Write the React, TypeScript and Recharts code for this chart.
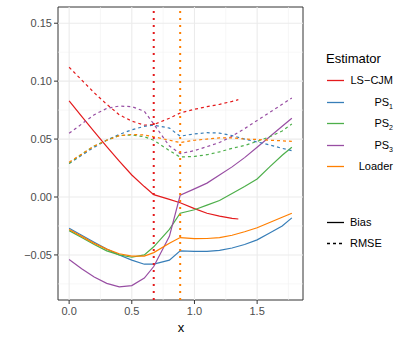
import React from "react";
import { LineChart, Line, XAxis, YAxis, ReferenceLine, ReferenceArea } from "recharts";

// x grid for the four spline estimators; LS-CJM stops earlier
const xGrid = [0, 0.1, 0.2, 0.3, 0.4, 0.5, 0.6, 0.675, 0.8, 0.886, 1.0, 1.1, 1.2, 1.3, 1.4, 1.5, 1.6, 1.7, 1.777];
const xLs = [0, 0.1, 0.2, 0.3, 0.4, 0.5, 0.6, 0.675, 0.8, 0.886, 1.0, 1.1, 1.2, 1.3, 1.35];

const lsBias = [0.083, 0.0696, 0.0565, 0.0435, 0.031, 0.019, 0.009, 0.002, -0.002, -0.005, -0.01, -0.014, -0.0165, -0.0185, -0.019];
const lsRmse = [0.112, 0.101, 0.09, 0.08, 0.071, 0.0655, 0.062, 0.0625, 0.068, 0.0725, 0.0757, 0.078, 0.08, 0.0825, 0.084];

const ps1Bias = [-0.027, -0.033, -0.039, -0.045, -0.05, -0.0545, -0.058, -0.058, -0.0545, -0.0465, -0.047, -0.047, -0.046, -0.044, -0.041, -0.037, -0.031, -0.025, -0.018];
const ps1Rmse = [0.029, 0.036, 0.043, 0.049, 0.054, 0.058, 0.061, 0.062, 0.0595, 0.0525, 0.0545, 0.0555, 0.0552, 0.053, 0.05, 0.0475, 0.045, 0.042, 0.04];

const ps2Bias = [-0.029, -0.035, -0.041, -0.0465, -0.05, -0.052, -0.05, -0.043, -0.028, -0.014, -0.011, -0.007, -0.003, 0.003, 0.009, 0.0155, 0.026, 0.036, 0.043];
const ps2Rmse = [0.029, 0.037, 0.044, 0.049, 0.053, 0.0535, 0.052, 0.049, 0.04, 0.0345, 0.035, 0.0365, 0.039, 0.042, 0.0445, 0.048, 0.052, 0.057, 0.063];

const ps3Bias = [-0.054, -0.062, -0.069, -0.0745, -0.0775, -0.0765, -0.07, -0.06, -0.034, 0.0015, 0.007, 0.012, 0.019, 0.026, 0.034, 0.043, 0.052, 0.061, 0.068];
const ps3Rmse = [0.055, 0.063, 0.071, 0.0765, 0.0785, 0.078, 0.074, 0.063, 0.044, 0.0375, 0.04, 0.0435, 0.047, 0.0525, 0.059, 0.066, 0.073, 0.08, 0.0855];

const loaderBias = [-0.028, -0.034, -0.04, -0.045, -0.049, -0.051, -0.051, -0.048, -0.04, -0.035, -0.036, -0.0358, -0.035, -0.033, -0.03, -0.0265, -0.022, -0.0175, -0.014];
const loaderRmse = [0.03, 0.037, 0.044, 0.049, 0.053, 0.054, 0.0535, 0.052, 0.049, 0.047, 0.049, 0.05, 0.051, 0.051, 0.05, 0.0497, 0.049, 0.0485, 0.048];

const cutoffs = [
  { x: 0.675, color: "#E41A1C" },
  { x: 0.886, color: "#FF7F00" }
];

const xTicks = [0, 0.5, 1, 1.5];
const xMinor = [0.25, 0.75, 1.25, 1.75];
const yTicks = [-0.05, 0, 0.05, 0.1, 0.15];
const yMinor = [-0.075, -0.025, 0.025, 0.075, 0.125];

const xDomain: [number, number] = [-0.0888, 1.866];
const yDomain: [number, number] = [-0.0889, 0.164];

const estimators = [
  { name: "LS−CJM", sub: "", color: "#E41A1C", xs: xLs, bias: lsBias, rmse: lsRmse },
  { name: "PS", sub: "1", color: "#377EB8", xs: xGrid, bias: ps1Bias, rmse: ps1Rmse },
  { name: "PS", sub: "2", color: "#4DAF4A", xs: xGrid, bias: ps2Bias, rmse: ps2Rmse },
  { name: "PS", sub: "3", color: "#984EA3", xs: xGrid, bias: ps3Bias, rmse: ps3Rmse },
  { name: "Loader", sub: "", color: "#FF7F00", xs: xGrid, bias: loaderBias, rmse: loaderRmse }
];

const toRows = (xs: number[], ys: number[]) => xs.map((x, i) => ({ x, y: ys[i] }));

const fmtY = (v: number) => (v < 0 ? "−" + Math.abs(v).toFixed(2) : v.toFixed(2));

const font = "'Liberation Sans', Arial, Helvetica, sans-serif";

export default function App() {
  return (
    <div style={{ position: "fixed", left: 0, top: 0, width: 407, height: 339, background: "#fff", fontFamily: font }}>
      <LineChart width={407} height={339} margin={{ top: 7, right: 104, bottom: 0, left: 0 }}>
        <XAxis
          type="number"
          dataKey="x"
          domain={xDomain}
          allowDataOverflow
          ticks={xTicks}
          tickFormatter={(v: number) => v.toFixed(1)}
          axisLine={false}
          tickLine={{ stroke: "#333333" }}
          tickSize={4}
          tickMargin={3}
          height={39}
          tick={{ fill: "#4d4d4d", fontSize: 11, fontFamily: font }}
        />
        <YAxis
          type="number"
          domain={yDomain}
          allowDataOverflow
          ticks={yTicks}
          tickFormatter={fmtY}
          axisLine={false}
          tickLine={{ stroke: "#333333" }}
          tickSize={4}
          tickMargin={2}
          width={58}
          tick={{ fill: "#4d4d4d", fontSize: 11, fontFamily: font }}
        />

        {yMinor.map((v) => (
          <ReferenceLine key={"ym" + v} y={v} stroke="#f2f2f2" strokeWidth={0.6} />
        ))}
        {xMinor.map((v) => (
          <ReferenceLine key={"xm" + v} x={v} stroke="#f2f2f2" strokeWidth={0.6} />
        ))}
        {yTicks.map((v) => (
          <ReferenceLine key={"yM" + v} y={v} stroke="#ebebeb" strokeWidth={1.1} />
        ))}
        {xTicks.map((v) => (
          <ReferenceLine key={"xM" + v} x={v} stroke="#ebebeb" strokeWidth={1.1} />
        ))}

        {estimators.map((e) => (
          <Line
            key={e.name + e.sub + "b"}
            data={toRows(e.xs, e.bias)}
            dataKey="y"
            type="linear"
            stroke={e.color}
            strokeWidth={1.2}
            dot={false}
            isAnimationActive={false}
          />
        ))}
        {estimators.map((e) => (
          <Line
            key={e.name + e.sub + "r"}
            data={toRows(e.xs, e.rmse)}
            dataKey="y"
            type="linear"
            stroke={e.color}
            strokeWidth={1.2}
            strokeDasharray="3 3"
            dot={false}
            isAnimationActive={false}
          />
        ))}

        {cutoffs.map((c) => (
          <ReferenceLine key={"c" + c.x} x={c.x} stroke={c.color} strokeWidth={2} strokeDasharray="2 5" />
        ))}

        <ReferenceArea x1={xDomain[0]} x2={xDomain[1]} y1={yDomain[0]} y2={yDomain[1]} fill="none" stroke="#333333" strokeWidth={1} />
      </LineChart>

      <div style={{ position: "absolute", left: 172, top: 320, width: 18, textAlign: "center", fontSize: 13, color: "#000", lineHeight: "16px" }}>x</div>

      <div style={{ position: "absolute", left: 326, top: 51, fontSize: 13, lineHeight: "16px", color: "#000" }}>Estimator</div>
      <svg style={{ position: "absolute", left: 326, top: 70 }} width={20} height={110}>
        {estimators.map((e, i) => {
          const cy = Math.round(10 + i * 21.5) + 0.5;
          return <line key={"k" + i} x1={1} x2={18} y1={cy} y2={cy} stroke={e.color} strokeWidth={1.3} />;
        })}
      </svg>
      {estimators.map((e, i) => {
        const cy = 80 + i * 21.5;
        return (
          <div
            key={"lg" + i}
            style={{ position: "absolute", right: 407 - 393, top: cy - 7, fontSize: 11, lineHeight: "14px", color: "#000", whiteSpace: "nowrap" }}
          >
            {e.name}
            {e.sub ? <sub style={{ fontSize: 7, verticalAlign: "-3px" }}>{e.sub}</sub> : null}
          </div>
        );
      })}

      <svg style={{ position: "absolute", left: 326, top: 216 }} width={20} height={34}>
        <line x1={1} x2={18} y1={6.5} y2={6.5} stroke="#000" strokeWidth={1.3} />
        <line x1={1} x2={18} y1={27.5} y2={27.5} stroke="#000" strokeWidth={1.3} strokeDasharray="3 3" />
      </svg>
      <div style={{ position: "absolute", left: 350, top: 215, fontSize: 11, lineHeight: "14px", color: "#000" }}>Bias</div>
      <div style={{ position: "absolute", left: 350, top: 236, fontSize: 11, lineHeight: "14px", color: "#000" }}>RMSE</div>
    </div>
  );
}
